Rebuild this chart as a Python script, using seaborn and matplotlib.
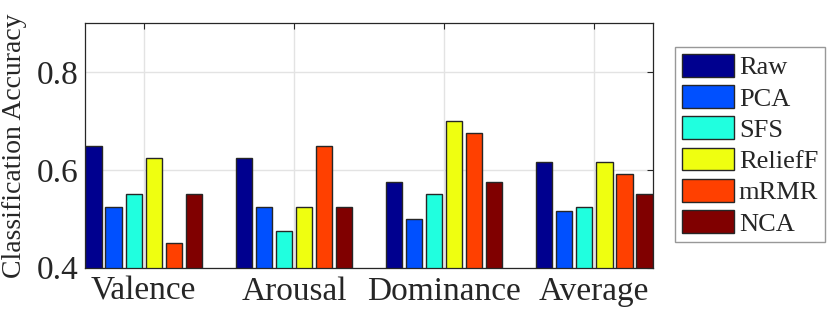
import matplotlib
matplotlib.use("Agg")
import matplotlib.pyplot as plt
import seaborn as sns
import pandas as pd

categories = ["Valence", "Arousal", "Dominance", "Average"]
methods = ["Raw", "PCA", "SFS", "ReliefF", "mRMR", "NCA"]
raw = [0.65, 0.625, 0.575, 0.617]
pca = [0.525, 0.525, 0.50, 0.517]
sfs = [0.55, 0.475, 0.55, 0.525]
relieff = [0.625, 0.525, 0.70, 0.617]
mrmr = [0.45, 0.65, 0.675, 0.592]
nca = [0.55, 0.525, 0.575, 0.55]
colors = ["#00008F", "#0050FF", "#20FFDF", "#EFFF10", "#FF4000", "#800000"]

series = [raw, pca, sfs, relieff, mrmr, nca]
rows = []
for m, vals in zip(methods, series):
    for c, v in zip(categories, vals):
        rows.append({"Category": c, "Method": m, "Accuracy": v})
df = pd.DataFrame(rows)

sns.set_style("white")
plt.rcParams["font.family"] = ["Liberation Serif", "DejaVu Serif"]

fig = plt.figure(figsize=(8.3, 3.17), dpi=100)
ax = fig.add_axes([0.1028, 0.1555, 0.6836, 0.771])

sns.barplot(data=df, x="Category", y="Accuracy", hue="Method",
            hue_order=methods, order=categories, palette=colors,
            saturation=1, width=0.8, gap=0.18, edgecolor="#262626", linewidth=1.0,
            ax=ax, legend=True)

ax.set_ylim(0.4, 0.9)
ax.set_xlim(-0.389, 3.389)
ax.set_yticks([0.4, 0.6, 0.8])
ax.set_yticklabels(["0.4", "0.6", "0.8"])
ax.set_xlabel("")
ax.set_ylabel("Classification Accuracy", fontsize=20, color="#262626", labelpad=7)
ax.tick_params(axis="both", direction="in", length=4, width=0.8, colors="#262626",
               labelsize=24, top=True, right=True, labelcolor="#262626")
ax.tick_params(axis="y", pad=5)
ax.tick_params(axis="x", pad=6)
ax.grid(True, color="#e3e3e3", linewidth=1.0)
ax.set_axisbelow(True)
for s in ax.spines.values():
    s.set_visible(True)
    s.set_color("#262626")
    s.set_linewidth(0.9)

leg = ax.legend(loc="upper left", bbox_to_anchor=(0.8133, 0.851), bbox_transform=fig.transFigure,
                fontsize=19, frameon=True, fancybox=False, edgecolor="#7f7f7f",
                handlelength=1.97, handleheight=0.95, handletextpad=0.2,
                labelspacing=0.22, borderpad=0.25, borderaxespad=0)
leg.get_frame().set_linewidth(1.0)
for t in leg.get_texts():
    t.set_color("#262626")

fig.savefig("out.png", dpi=100)
